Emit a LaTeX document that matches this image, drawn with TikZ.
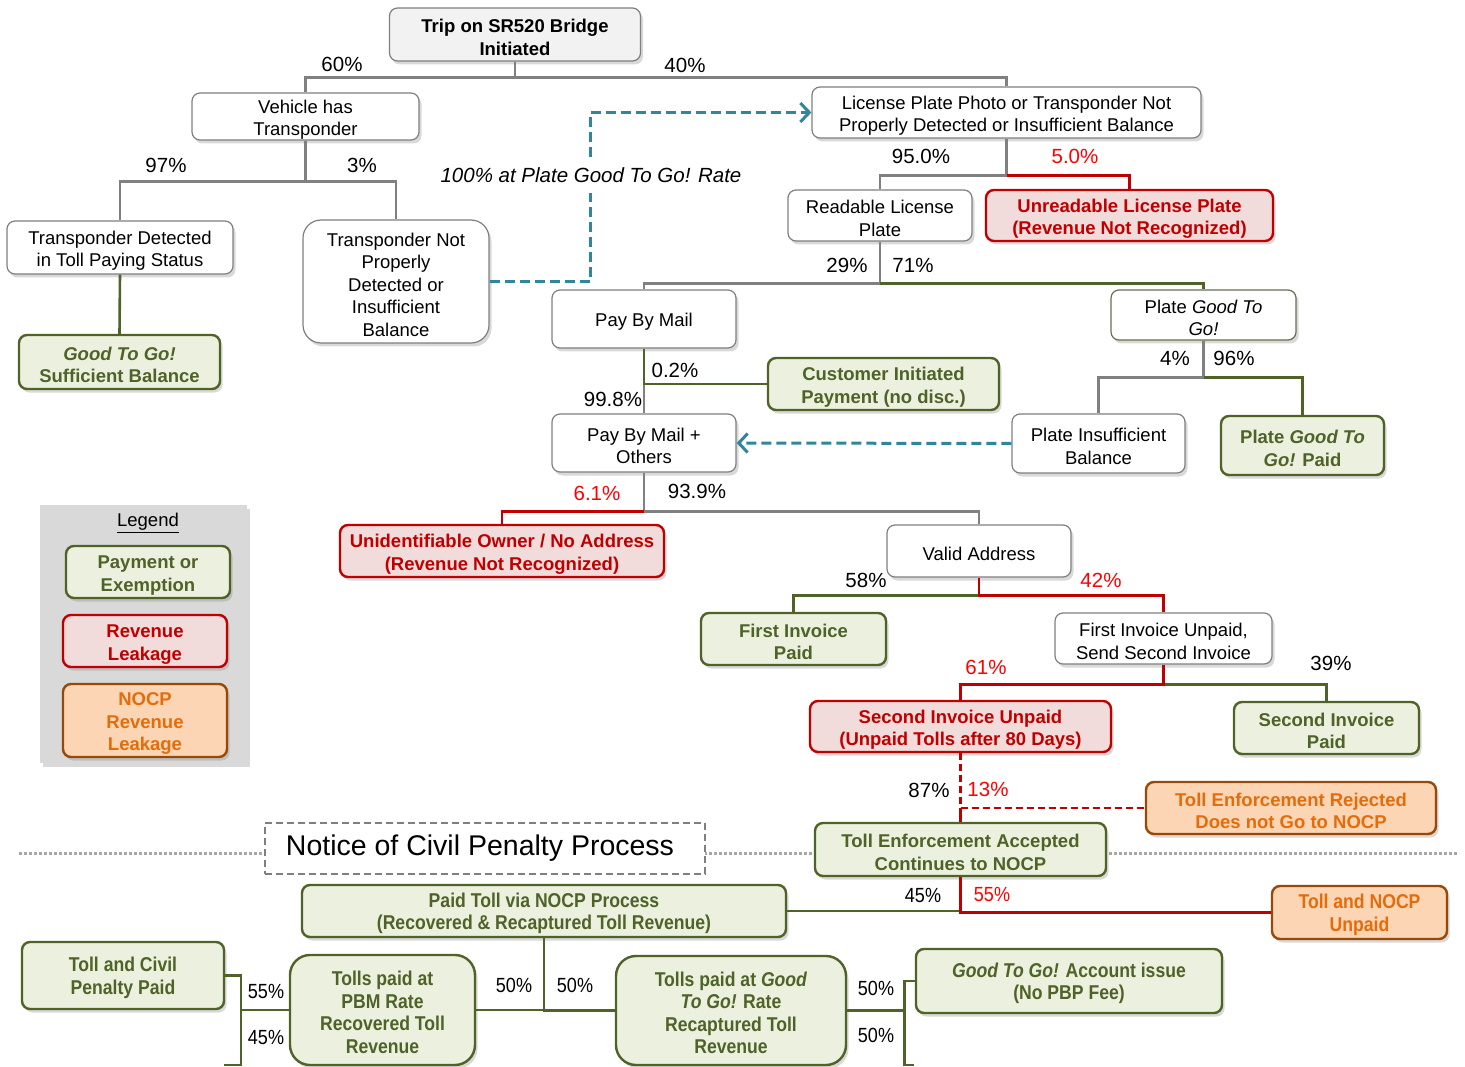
\documentclass[tikz,border=0pt]{standalone}
\usepackage{fontspec}
\setmainfont{Liberation Sans}
\newfontfamily\narrowFont[FakeStretch=0.88]{Liberation Sans}
\usetikzlibrary{arrows.meta, shadows}
\definecolor{lineGray}{RGB}{128,128,128}
\definecolor{borderGray}{RGB}{127,127,127}
\definecolor{tripFill}{RGB}{242,242,242}
\definecolor{greenDark}{RGB}{79,98,40}
\definecolor{greenFill}{RGB}{235,241,222}
\definecolor{redDark}{RGB}{192,0,0}
\definecolor{redFill}{RGB}{242,220,219}
\definecolor{orangeText}{RGB}{228,108,10}
\definecolor{orangeBorder}{RGB}{152,72,7}
\definecolor{orangeFill}{RGB}{252,213,181}
\definecolor{tealLine}{RGB}{49,133,156}
\definecolor{pctRed}{RGB}{255,0,0}
\definecolor{legendFill}{RGB}{217,217,217}
\definecolor{dotGray}{RGB}{166,166,166}
\newcommand{\boxFont}{\fontsize{18.5}{22.5}\selectfont}
\newcommand{\narrowBoxFont}{\narrowFont\fontsize{20}{22.5}\selectfont}
\newcommand{\pctFont}{\fontsize{20.5}{24}\selectfont}
\newcommand{\boxStrut}{\rule{0pt}{19.5pt}}
\tikzstyle{pixelGrid} = [x = 1pt, y = -1pt]
\tikzstyle{nodeShadow} = [drop shadow={shadow xshift=2.5pt, shadow yshift=-3.5pt, opacity=0.3, fill=black!50}]
\tikzstyle{plainBox} = [draw=borderGray, line width=1.2pt, fill=white, rounded corners=8pt, align=center, inner sep=0pt, font=\boxFont, nodeShadow]
\tikzstyle{payBox} = [plainBox, draw=greenDark, line width=2.4pt, fill=greenFill, text=greenDark, font=\boxFont\bfseries]
\tikzstyle{leakBox} = [payBox, draw=redDark, fill=redFill, text=redDark]
\tikzstyle{nocpBox} = [payBox, draw=orangeBorder, fill=orangeFill, text=orangeText]
\tikzstyle{narrowText} = [font=\narrowBoxFont\bfseries]
\tikzstyle{grayLine} = [draw=lineGray, line width=2.6pt]
\tikzstyle{greenLine} = [draw=greenDark, line width=2.6pt]
\tikzstyle{redLine} = [draw=redDark, line width=2.6pt]
\tikzstyle{tealDash} = [draw=tealLine, line width=3pt, dash pattern=on 10pt off 5pt]
\tikzstyle{barbTip} = [-{Straight Barb[length=9pt, width=19pt, line width=3pt]}]
\tikzstyle{pctText} = [font=\pctFont, inner sep=0pt]
\tikzstyle{pctRedText} = [pctText, text=pctRed]
\tikzstyle{pctNarrow} = [pctText, font=\narrowFont\fontsize{20.5}{24}\selectfont]
\tikzstyle{pctNarrowRed} = [pctNarrow, text=pctRed]
\newcommand{\pctLabel}[4]{\node [#1] (#2) at (#3) {#4};}

\begin{document}
\begin{tikzpicture}[pixelGrid]
  \useasboundingbox (0,0) rectangle (1465,1067);

  % section divider
  \draw [dotGray, line width=3pt, dash pattern=on 3pt off 2pt] (19,853) -- (1457,853);

  % legend
  \fill [legendFill, nodeShadow] (40,505) rectangle (247,763);
  \node [font=\boxFont, inner sep=0pt] (legendTitle) at (148,523) {\underline{Legend}};
  \node [payBox, minimum width=164pt, minimum height=52pt] (payLegend) at (148,572) {\boxStrut Payment or\\Exemption};
  \node [leakBox, minimum width=164pt, minimum height=52pt] (leakLegend) at (145,641) {\boxStrut Revenue\\Leakage};
  \node [nocpBox, minimum width=164pt, minimum height=73pt] (nocpLegend) at (145,720.5) {\boxStrut NOCP\\Revenue\\Leakage};

  % upper tree
  \node [plainBox, fill=tripFill, font=\boxFont\bfseries, minimum width=251pt, minimum height=53pt] (trip) at (515,34.5) {\boxStrut Trip on SR520 Bridge\\Initiated};
  \node [plainBox, minimum width=227pt, minimum height=47pt] (veh) at (305.5,116.5) {\boxStrut Vehicle has\\Transponder};
  \node [plainBox, minimum width=389pt, minimum height=51pt] (lpp) at (1006.5,112.5) {\boxStrut License Plate Photo or Transponder Not\\Properly Detected or Insufficient Balance};
  \node [plainBox, minimum width=226pt, minimum height=53pt] (tdet) at (120,247.5) {\boxStrut Transponder Detected\\in Toll Paying Status};
  \node [plainBox, rounded corners=18pt, minimum width=186pt, minimum height=123pt] (tnot) at (396,281.5) {\boxStrut Transponder Not\\Properly\\Detected or\\Insufficient\\Balance};
  \node [payBox, minimum width=201pt, minimum height=54pt] (gtg) at (119.5,362) {\boxStrut\textit{Good To Go!}\\Sufficient Balance};
  \node [plainBox, minimum width=184pt, minimum height=51pt] (read) at (880,215.5) {\boxStrut Readable License\\Plate};
  \node [leakBox, minimum width=287pt, minimum height=51pt] (unread) at (1129.5,215.5) {\boxStrut Unreadable License Plate\\(Revenue Not Recognized)};
  \node [plainBox, minimum width=184pt, minimum height=58pt] (pbm) at (644,319) {\boxStrut Pay By Mail};
  \node [plainBox, draw=greenDark!55!gray, minimum width=185pt, minimum height=50pt] (pgtg) at (1203.5,315) {\boxStrut Plate \textit{Good To}\\\textit{Go!}};
  \node [payBox, minimum width=231pt, minimum height=52pt] (cip) at (883.5,384) {\boxStrut Customer Initiated\\Payment (no disc.)};
  \node [plainBox, minimum width=184pt, minimum height=58pt] (pbmo) at (644,443) {\boxStrut Pay By Mail +\\Others};
  \node [plainBox, minimum width=173pt, minimum height=59pt] (pinsuf) at (1098.5,443.5) {\boxStrut Plate Insufficient\\Balance};
  \node [payBox, minimum width=163pt, minimum height=59pt] (pgtgPaid) at (1302.5,445.5) {\boxStrut Plate \textit{Good To}\\\textit{Go!} Paid};
  \node [leakBox, minimum width=324pt, minimum height=52pt] (unid) at (502,551) {\boxStrut Unidentifiable Owner / No Address\\(Revenue Not Recognized)};
  \node [plainBox, minimum width=184pt, minimum height=52pt] (valid) at (979,551) {\boxStrut Valid Address};
  \node [payBox, minimum width=185pt, minimum height=52pt] (fip) at (793.5,639) {\boxStrut First Invoice\\Paid};
  \node [plainBox, minimum width=217pt, minimum height=51pt] (fiu) at (1163.5,638.5) {\boxStrut First Invoice Unpaid,\\Send Second Invoice};
  \node [leakBox, minimum width=301pt, minimum height=51pt] (siu) at (960.5,726.5) {\boxStrut Second Invoice Unpaid\\(Unpaid Tolls after 80 Days)};
  \node [payBox, minimum width=185pt, minimum height=52pt] (sip) at (1326.5,728) {\boxStrut Second Invoice\\Paid};
  \node [nocpBox, minimum width=290pt, minimum height=52pt] (ter) at (1291,808) {\boxStrut Toll Enforcement Rejected\\Does not Go to NOCP};
  \node [payBox, minimum width=291pt, minimum height=53pt] (tea) at (960.5,849.5) {\boxStrut Toll Enforcement Accepted\\Continues to NOCP};

  % NOCP section
  \node [draw=borderGray, line width=2pt, dash pattern=on 7pt off 4pt, fill=white, minimum width=440pt, minimum height=51pt, inner sep=0pt, font=\fontsize{28.5}{32}\selectfont] (nocpTitle) at (485,848.5) {Notice of Civil Penalty Process\hspace*{10pt}};
  \node [payBox, narrowText, minimum width=484pt, minimum height=52pt] (ptv) at (544,911) {\boxStrut Paid Toll via NOCP Process\\(Recovered \& Recaptured Toll Revenue)};
  \node [nocpBox, narrowText, minimum width=175pt, minimum height=53pt] (tnu) at (1359.5,912.5) {\boxStrut Toll and NOCP\\Unpaid};
  \node [payBox, narrowText, minimum width=202pt, minimum height=67pt] (tcp) at (123,975.5) {\boxStrut Toll and Civil\\Penalty Paid};
  \node [payBox, narrowText, rounded corners=20pt, minimum width=185pt, minimum height=110pt] (pbmRate) at (382.5,1010) {\boxStrut Tolls paid at\\PBM Rate\\Recovered Toll\\Revenue};
  \node [payBox, narrowText, rounded corners=20pt, minimum width=230pt, minimum height=109pt] (gtgRate) at (731,1010.5) {\boxStrut Tolls paid at \textit{Good}\\\textit{To Go!} Rate\\Recaptured Toll\\Revenue};
  \node [payBox, narrowText, minimum width=306pt, minimum height=64pt] (acct) at (1069,981) {\boxStrut\textit{Good To Go!} Account issue\\(No PBP Fee)};

  % connectors
  \draw [grayLine] (trip.south) -- ++(0,16) coordinate (tripJoin) -| (veh.north);
  \draw [grayLine] (tripJoin) -| (lpp.north);
  \draw [grayLine] (veh.south) -- ++(0,41) coordinate (vehJoin) -| (tdet.north);
  \draw [grayLine] (vehJoin) -| (tnot.north);
  \draw [greenLine] (tdet.south) -- (gtg.north);
  \draw [grayLine] (lpp.south) -- ++(0,37) coordinate (lppJoin) -| (read.north);
  \draw [redLine] (lppJoin) -| (unread.north);
  \draw [grayLine] (read.south) -- ++(0,42) coordinate (readJoin) -| (pbm.north);
  \draw [greenLine] (readJoin) -| (pgtg.north);
  \draw [grayLine] (pbm.south) -- (pbmo.north);
  \draw [greenLine] (pbm.south) |- (cip.west);
  \draw [grayLine] (pgtg.south) -- ++(0,37) coordinate (pgtgJoin) -| (pinsuf.north);
  \draw [greenLine] (pgtgJoin) -| (pgtgPaid.north);
  \draw [grayLine] (pbmo.south) -- ++(0,39) coordinate (pbmoJoin) -| (valid.north);
  \draw [redLine] (pbmoJoin) -| (unid.north);
  \draw [greenLine] (valid.south) ++(0,18) coordinate (validJoin) -| (fip.north);
  \draw [redLine] (valid.south) -- (validJoin) -| (fiu.north);
  \draw [greenLine] (fiu.south) ++(0,20) coordinate (fiuJoin) -| (sip.north);
  \draw [redLine] (fiu.south) -- (fiuJoin) -| (siu.north);
  \draw [redLine, dash pattern=on 7pt off 4pt] (siu.south) -- (siu.south |- ter.west) coordinate (siuJoin) -- (ter.west);
  \draw [redLine] (siuJoin) -- (tea.north);
  \draw [greenLine] (tea.south |- ptv.east) -- (ptv.east);
  \draw [redLine] (tea.south) |- (tnu.west);
  \draw [greenLine] (ptv.south) |- (pbmRate.east);
  \draw [greenLine] (ptv.south) |- (gtgRate.west);
  \coordinate (tcpLower) at (224,1065);
  \draw [greenLine] (pbmRate.west) -- ++(-48,0) coordinate (pbmRateJoin);
  \draw [greenLine] (tcp.east) -| (pbmRateJoin |- tcpLower) -- (tcpLower);
  \coordinate (acctLower) at (914,1065);
  \draw [greenLine] (gtgRate.east) -- ++(57,0) coordinate (gtgRateJoin);
  \draw [greenLine] (acct.west) -| (gtgRateJoin |- acctLower) -- (acctLower);

  % plate rate links
  \coordinate (rateBend) at (590,112.5);
  \draw [tealDash, barbTip] (tnot.east) -| (rateBend) -- (lpp.west);
  \draw [tealDash, barbTip] (pinsuf.west) -- (pbmo.east);
  \node [font=\fontsize{20.5}{24}\selectfont\itshape, fill=white, inner xsep=2pt, inner ysep=10pt] (rateLabel) at (591,175) {100\% at Plate Good To Go! Rate};

  % shares
  \pctLabel{pctText}{pTripVeh}{342,64}{60\%}
  \pctLabel{pctText}{pTripLpp}{685,65}{40\%}
  \pctLabel{pctText}{pVehDet}{166,165}{97\%}
  \pctLabel{pctText}{pVehNot}{362,165}{3\%}
  \pctLabel{pctText}{pLppRead}{921,156}{95.0\%}
  \pctLabel{pctRedText}{pLppUnread}{1075,156}{5.0\%}
  \pctLabel{pctText}{pReadPbm}{847,265}{29\%}
  \pctLabel{pctText}{pReadPgtg}{913,265}{71\%}
  \pctLabel{pctText}{pPbmCip}{675,370}{0.2\%}
  \pctLabel{pctText}{pPbmOthers}{613,399}{99.8\%}
  \pctLabel{pctText}{pPgtgInsuf}{1175,358}{4\%}
  \pctLabel{pctText}{pPgtgPaid}{1234,358}{96\%}
  \pctLabel{pctRedText}{pOthersUnid}{597,493}{6.1\%}
  \pctLabel{pctText}{pOthersValid}{697,491}{93.9\%}
  \pctLabel{pctText}{pValidFip}{866,580}{58\%}
  \pctLabel{pctRedText}{pValidFiu}{1101,580}{42\%}
  \pctLabel{pctRedText}{pFiuSiu}{986,667}{61\%}
  \pctLabel{pctText}{pFiuSip}{1331,663}{39\%}
  \pctLabel{pctText}{pSiuTea}{929,790}{87\%}
  \pctLabel{pctRedText}{pSiuTer}{988,789}{13\%}
  \pctLabel{pctNarrow}{pTeaPtv}{923,895}{45\%}
  \pctLabel{pctNarrowRed}{pTeaTnu}{992,894}{55\%}
  \pctLabel{pctNarrow}{pPtvPbm}{514,985}{50\%}
  \pctLabel{pctNarrow}{pPtvGtg}{575,985}{50\%}
  \pctLabel{pctNarrow}{pPbmTcp}{266,991}{55\%}
  \pctLabel{pctNarrow}{pPbmLow}{266,1037}{45\%}
  \pctLabel{pctNarrow}{pGtgAcct}{876,988}{50\%}
  \pctLabel{pctNarrow}{pGtgLow}{876,1035}{50\%}
\end{tikzpicture}
\end{document}
